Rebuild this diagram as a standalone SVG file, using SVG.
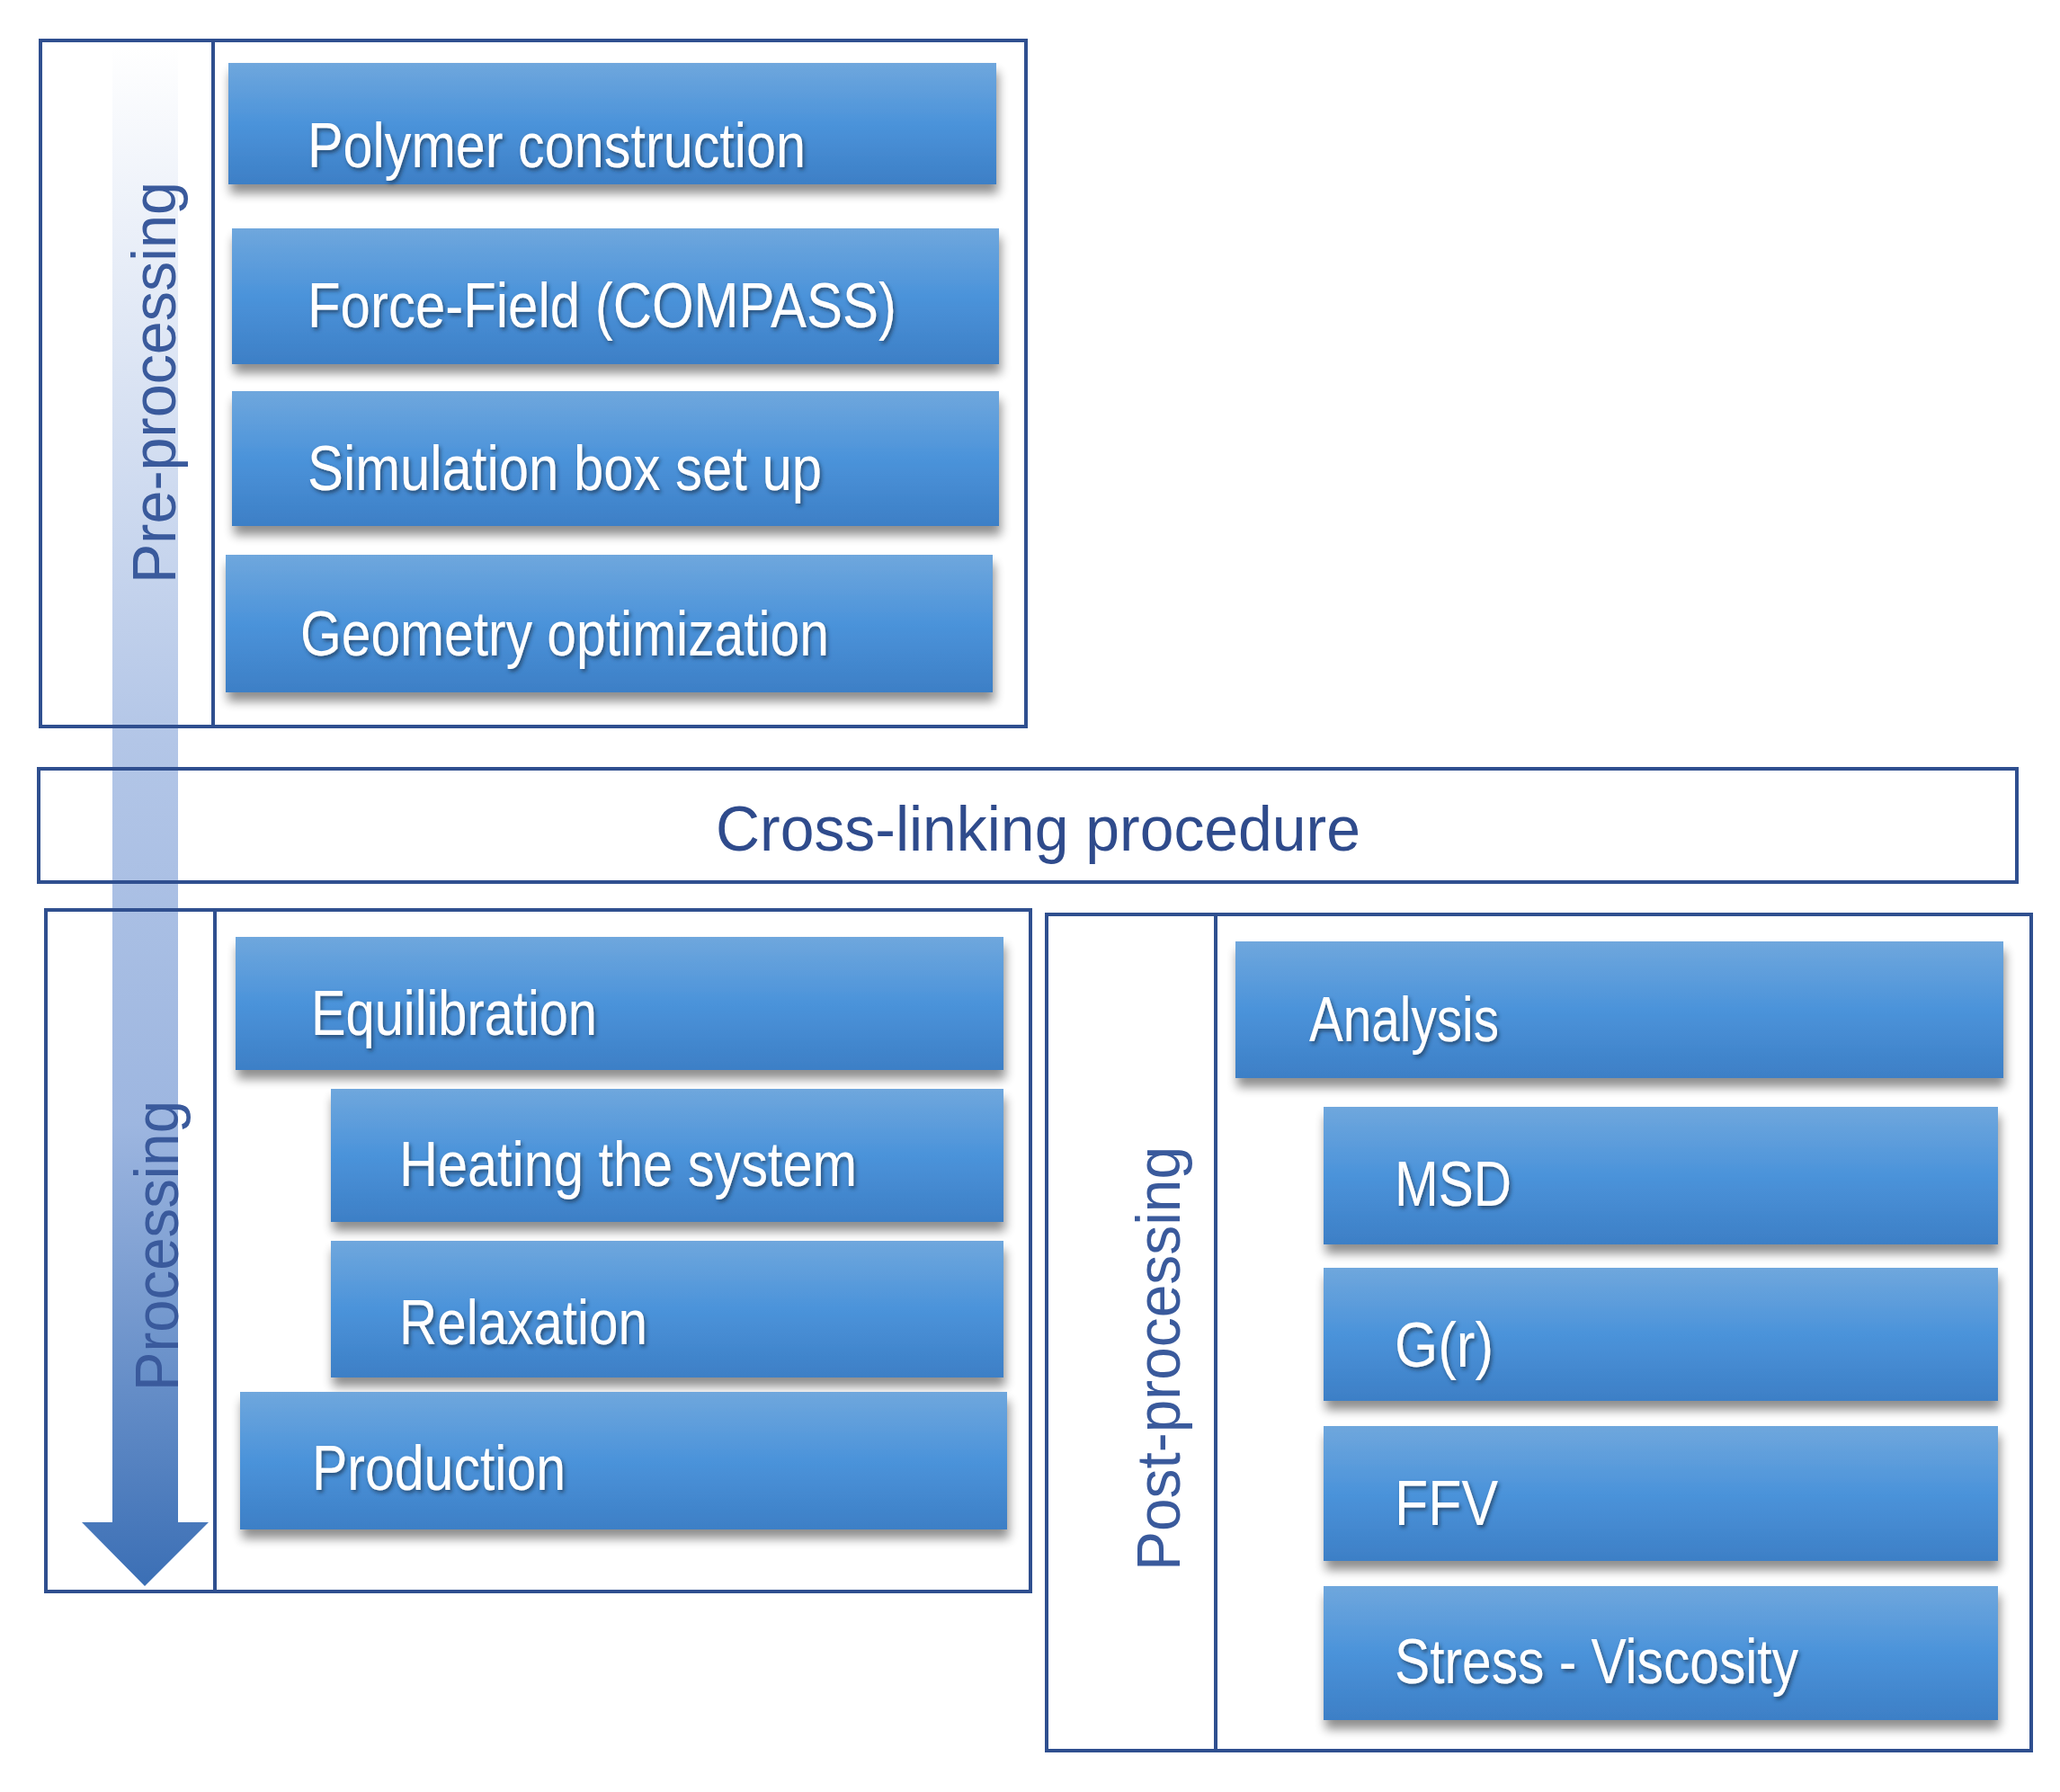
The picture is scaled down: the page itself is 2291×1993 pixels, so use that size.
<svg xmlns="http://www.w3.org/2000/svg" width="2291" height="1993" viewBox="0 0 2291 1993">
<defs>
<linearGradient id="bf" x1="0" y1="0" x2="0" y2="1"><stop offset="0" stop-color="#6fa7dd"/><stop offset="0.5" stop-color="#4b93da"/><stop offset="1" stop-color="#3d7fc6"/></linearGradient>
<linearGradient id="ar" x1="0" y1="0" x2="0" y2="1"><stop offset="0" stop-color="#ffffff"/><stop offset="0.45" stop-color="#b3c6e7"/><stop offset="0.7" stop-color="#9db6e0"/><stop offset="1" stop-color="#3b6fb5"/></linearGradient>
<filter id="sh" x="-5%" y="-10%" width="110%" height="140%"><feGaussianBlur in="SourceAlpha" stdDeviation="6"/><feOffset dx="2" dy="10"/><feComponentTransfer><feFuncA type="linear" slope="0.45"/></feComponentTransfer><feMerge><feMergeNode/><feMergeNode in="SourceGraphic"/></feMerge></filter>
<filter id="ts"><feDropShadow dx="2" dy="3" stdDeviation="2" flood-color="#1a3050" flood-opacity="0.7"/></filter>
</defs>
<style>
.frame{fill:none;stroke:#2f4f8f;stroke-width:4}
.box{fill:url(#bf);filter:url(#sh)}
.t{font-family:"Liberation Sans",Arial,sans-serif;font-size:70px;fill:#ffffff;filter:url(#ts)}
.v{font-family:"Liberation Sans",Arial,sans-serif;font-size:68px;fill:#3a5a9c}
</style>
<g id="arrow"><polygon points="125,51 198,51 198,1693 232,1693 161,1764 91,1693 125,1693" fill="url(#ar)"/></g>
<g id="pre">
<rect class="frame" x="45" y="45" width="1096" height="763"/><line class="frame" x1="237" y1="45" x2="237" y2="808"/>
<text class="v" transform="translate(195,649) rotate(-90)" textLength="447" lengthAdjust="spacingAndGlyphs">Pre-processing</text>
</g>
<g id="n1"><rect class="box" x="254" y="70" width="854" height="135"/><text class="t" x="342" y="186" textLength="554" lengthAdjust="spacingAndGlyphs">Polymer  construction</text></g>
<g id="n2"><rect class="box" x="258" y="254" width="853" height="151"/><text class="t" x="342" y="364" textLength="655" lengthAdjust="spacingAndGlyphs">Force-Field (COMPASS)</text></g>
<g id="n3"><rect class="box" x="258" y="435" width="853" height="150"/><text class="t" x="342" y="545" textLength="572" lengthAdjust="spacingAndGlyphs">Simulation  box set up</text></g>
<g id="n4"><rect class="box" x="251" y="617" width="853" height="153"/><text class="t" x="334" y="729" textLength="588" lengthAdjust="spacingAndGlyphs">Geometry  optimization</text></g>
<g id="cross"><rect class="frame" x="43" y="855" width="2200" height="126"/><text x="796" y="946" font-family="Liberation Sans,Arial,sans-serif" font-size="70" fill="#2f4b8c" textLength="717" lengthAdjust="spacingAndGlyphs">Cross-linking  procedure</text></g>
<g id="proc">
<rect class="frame" x="51" y="1012" width="1095" height="758"/><line class="frame" x1="239" y1="1012" x2="239" y2="1770"/>
<polygon points="125,1012 198,1012 198,1693 232,1693 161,1764 91,1693 125,1693" fill="url(#ar)" opacity="0"/>
<text class="v" transform="translate(198,1547) rotate(-90)" textLength="323" lengthAdjust="spacingAndGlyphs">Processing</text>
</g>
<g id="n5"><rect class="box" x="262" y="1042" width="854" height="148"/><text class="t" x="346" y="1151" textLength="318" lengthAdjust="spacingAndGlyphs">Equilibration</text></g>
<g id="n6"><rect class="box" x="368" y="1211" width="748" height="148"/><text class="t" x="444" y="1319" textLength="509" lengthAdjust="spacingAndGlyphs">Heating  the system</text></g>
<g id="n7"><rect class="box" x="368" y="1380" width="748" height="152"/><text class="t" x="444" y="1495" textLength="276" lengthAdjust="spacingAndGlyphs">Relaxation</text></g>
<g id="n8"><rect class="box" x="267" y="1548" width="853" height="153"/><text class="t" x="347" y="1657" textLength="282" lengthAdjust="spacingAndGlyphs">Production</text></g>
<g id="post">
<rect class="frame" x="1164" y="1017" width="1095" height="930"/><line class="frame" x1="1352" y1="1017" x2="1352" y2="1947"/>
<text class="v" transform="translate(1312,1747) rotate(-90)" textLength="472" lengthAdjust="spacingAndGlyphs">Post-processing</text>
</g>
<g id="n9"><rect class="box" x="1374" y="1047" width="854" height="152"/><text class="t" x="1456" y="1158" textLength="211" lengthAdjust="spacingAndGlyphs">Analysis</text></g>
<g id="n10"><rect class="box" x="1472" y="1231" width="750" height="153"/><text class="t" x="1551" y="1341" textLength="130" lengthAdjust="spacingAndGlyphs">MSD</text></g>
<g id="n11"><rect class="box" x="1472" y="1410" width="750" height="148"/><text class="t" x="1551" y="1520" textLength="110" lengthAdjust="spacingAndGlyphs">G(r)</text></g>
<g id="n12"><rect class="box" x="1472" y="1586" width="750" height="150"/><text class="t" x="1551" y="1696" textLength="115" lengthAdjust="spacingAndGlyphs">FFV</text></g>
<g id="n13"><rect class="box" x="1472" y="1764" width="750" height="149"/><text class="t" x="1551" y="1872" textLength="449" lengthAdjust="spacingAndGlyphs">Stress - Viscosity</text></g>
</svg>
